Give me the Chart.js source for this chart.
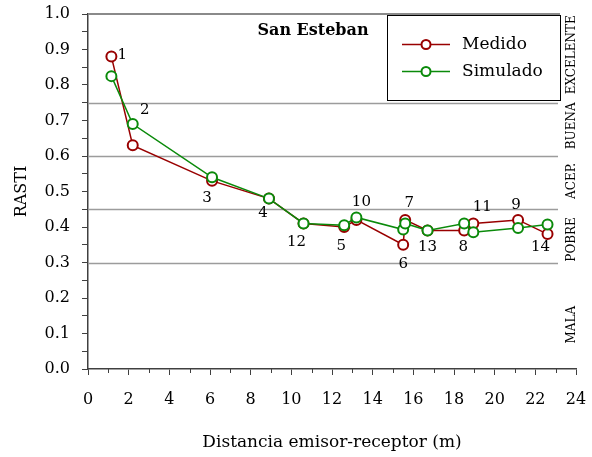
<!DOCTYPE html>
<html>
<head>
<meta charset="utf-8">
<script src="https://cdn.jsdelivr.net/npm/chart.js@4.4.0/dist/chart.umd.min.js"></script>
<style>
  html, body { margin: 0; padding: 0; background: #fff; }
  #wrap { width: 592px; height: 457px; }
</style>
</head>
<body>
<div id="wrap"><canvas id="rasti" width="592" height="457"></canvas></div>
<script>
// receptores ordenados por distancia
const receptores = [1, 2, 3, 4, 12, 5, 10, 6, 7, 13, 8, 11, 9, 14];
const distancia = [1.15, 2.2, 6.1, 8.9, 10.6, 12.6, 13.2, 15.5, 15.6, 16.7, 18.5, 18.95, 21.15, 22.6];
const medido = [0.88, 0.63, 0.53, 0.48, 0.41, 0.40, 0.42, 0.35, 0.42, 0.39, 0.39, 0.41, 0.42, 0.38];
const simulado = [0.825, 0.69, 0.54, 0.48, 0.41, 0.405, 0.427, 0.393, 0.41, 0.39, 0.41, 0.385, 0.397, 0.407];

// limites de calificacion RASTI
const limites = [0.3, 0.45, 0.6, 0.75];
const calificaciones = ['MALA', 'POBRE', 'ACEP.', 'BUENA', 'EXCELENTE'];

// donde va cada cosa (px / valor)
const posCalif = [0.125, 0.365, 0.53, 0.685, 0.885];
const offEtiq = [[11, -1], [12, -35], [-5, 17], [-6, 15], [-7, 19], [-3, 19], [5, -18],
                 [0, 19], [4, -17], [0, 17], [-1, 17], [9, -16], [-2, -15], [-7, 13]];

const serif = 'DejaVu Serif';
const rojo = '#990000';
const verde = '#0a8a0a';
const eje = '#404040';

const sinPadding = s => {
  s.paddingTop = 0; s.paddingRight = 0; s.paddingBottom = 0; s.paddingLeft = 0;
};

const decorado = {
  id: 'decorado',
  beforeDatasetsDraw(chart) {
    const { ctx, chartArea, scales: { x, y } } = chart;
    ctx.save();
    ctx.strokeStyle = '#9c9c9c';
    ctx.lineWidth = 1.5;
    limites.forEach(v => {
      const py = Math.round(y.getPixelForValue(v)) + 0.5;
      ctx.beginPath();
      ctx.moveTo(chartArea.left, py);
      ctx.lineTo(558, py);
      ctx.stroke();
    });
    ctx.strokeStyle = '#8a8a8a';
    ctx.lineWidth = 2;
    const top = y.getPixelForValue(1);
    ctx.beginPath();
    ctx.moveTo(chartArea.left, top);
    ctx.lineTo(560, top);
    ctx.stroke();

    // marcas menores del eje x (mas cortas)
    ctx.strokeStyle = eje;
    ctx.lineWidth = 1;
    x.ticks.forEach(t => {
      if (t.value % 2 === 0) return;
      const px = Math.round(x.getPixelForValue(t.value)) + 0.5;
      ctx.beginPath();
      ctx.moveTo(px, chartArea.bottom);
      ctx.lineTo(px, chartArea.bottom + 4);
      ctx.stroke();
    });
    ctx.restore();
  },
  afterDatasetsDraw(chart) {
    const { ctx, scales: { x, y } } = chart;
    ctx.save();
    // numeros de receptor
    ctx.fillStyle = '#000';
    ctx.font = '15px "' + serif + '"';
    ctx.textAlign = 'center';
    ctx.textBaseline = 'middle';
    receptores.forEach((r, i) => {
      const px = x.getPixelForValue(distancia[i]) + offEtiq[i][0];
      const py = y.getPixelForValue(medido[i]) + offEtiq[i][1];
      ctx.fillText(String(r), px, py);
    });

    // calificaciones a la derecha
    ctx.font = '12px "' + serif + '"';
    calificaciones.forEach((c, i) => {
      ctx.save();
      ctx.translate(572, y.getPixelForValue(posCalif[i]));
      ctx.rotate(-Math.PI / 2);
      ctx.fillText(c, 0, 0);
      ctx.restore();
    });

    // titulo
    ctx.font = 'bold 16px "' + serif + '"';
    ctx.fillText('San Esteban', 313, 31);

    // leyenda
    ctx.fillStyle = '#fff';
    ctx.fillRect(387, 15, 173, 85);
    ctx.strokeStyle = '#000';
    ctx.lineWidth = 1;
    ctx.strokeRect(387.5, 15.5, 173, 85);
    chart.data.datasets.slice().reverse().forEach((ds, i) => {
      const ly = 44.5 + i * 27;
      ctx.strokeStyle = ds.borderColor;
      ctx.lineWidth = 1.5;
      ctx.beginPath();
      ctx.moveTo(402, ly);
      ctx.lineTo(450, ly);
      ctx.stroke();
      ctx.beginPath();
      ctx.arc(426, ly, 4.5, 0, Math.PI * 2);
      ctx.fillStyle = '#fff';
      ctx.fill();
      ctx.lineWidth = 2;
      ctx.stroke();
      ctx.fillStyle = '#000';
      ctx.font = '17px "' + serif + '"';
      ctx.textAlign = 'left';
      ctx.fillText(ds.label, 462, ly);
    });
    ctx.restore();
  }
};

const serie = vals => distancia.map((d, i) => ({ x: d, y: vals[i] }));

new Chart(document.getElementById('rasti'), {
  type: 'line',
  data: {
    datasets: [
      {
        label: 'Simulado',
        data: serie(simulado),
        borderColor: verde,
        borderWidth: 1.5,
        pointRadius: 5,
        pointBorderWidth: 2,
        pointBackgroundColor: '#fff',
        pointBorderColor: verde,
        order: 0
      },
      {
        label: 'Medido',
        data: serie(medido),
        borderColor: rojo,
        borderWidth: 1.5,
        pointRadius: 5,
        pointBorderWidth: 2,
        pointBackgroundColor: '#fff',
        pointBorderColor: rojo,
        order: 1
      }
    ]
  },
  options: {
    responsive: false,
    animation: false,
    devicePixelRatio: 1,
    layout: { padding: { top: 14, right: 16, left: 0, bottom: 0 } },
    plugins: { legend: { display: false }, tooltip: { enabled: false } },
    scales: {
      x: {
        type: 'linear',
        min: 0,
        max: 24,
        afterFit: s => { s.height = 88; sinPadding(s); },
        ticks: {
          stepSize: 1,
          autoSkip: false,
          maxRotation: 0,
          padding: 15,
          color: '#000',
          font: { family: serif, size: 16 },
          callback: v => (v % 2 === 0 ? v : '')
        },
        grid: {
          drawOnChartArea: false,
          tickLength: 6,
          color: eje,
          tickColor: c => (c.tick && c.tick.value % 2 !== 0 ? 'rgba(0,0,0,0)' : eje)
        },
        border: { color: eje, width: 1.5 },
        title: {
          display: true,
          text: 'Distancia emisor-receptor (m)',
          color: '#000',
          font: { family: serif, size: 17 },
          padding: { top: 0, bottom: 4 }
        }
      },
      y: {
        min: 0,
        max: 1,
        afterFit: s => { s.width = 88; sinPadding(s); },
        ticks: {
          stepSize: 0.05,
          autoSkip: false,
          padding: 12,
          color: '#000',
          font: { family: serif, size: 16 },
          callback: (v, i) => (i % 2 === 0 ? v.toFixed(1) : '')
        },
        grid: { drawOnChartArea: false, tickLength: 6, color: eje },
        border: { color: eje, width: 1.5 },
        title: {
          display: true,
          text: 'RASTI',
          color: '#000',
          font: { family: serif, size: 16 },
          padding: { top: 12, bottom: 0 }
        }
      }
    }
  },
  plugins: [decorado]
});
</script>
</body>
</html>
